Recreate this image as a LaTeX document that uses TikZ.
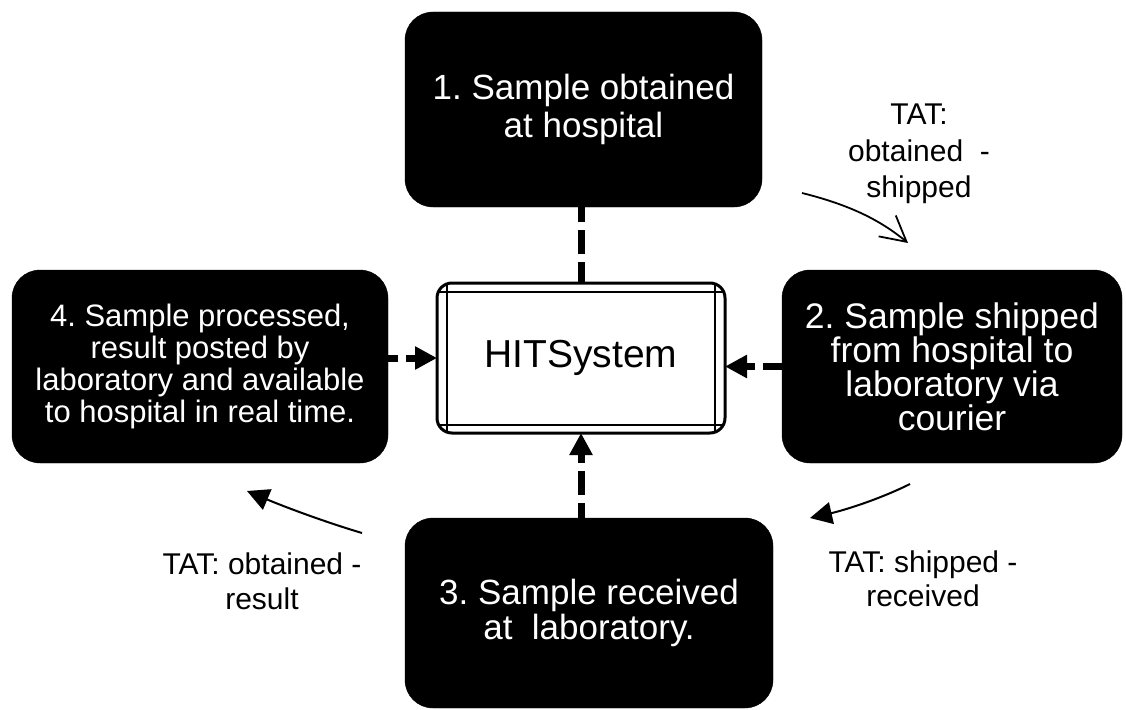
\documentclass[tikz,border=0pt]{standalone}
\usepackage{fontspec}
\setmainfont{Liberation Sans}
\usetikzlibrary{arrows.meta,calc}
\frenchspacing
\tikzset{
  stepbox/.style={fill=black, draw=black, rounded corners=28pt, text=white, align=center, inner sep=0pt, outer sep=0pt},
  hitbox/.style={draw=black, fill=white, line width=3pt, rounded corners=15pt, minimum width=288pt, minimum height=150pt, inner sep=0pt, outer sep=0pt, font=\fontsize{39}{44}\selectfont},
  link/.style={line width=7pt, dash pattern=on 24pt off 8pt},
  linkarrow/.style={link, -{Triangle[length=22pt,width=22pt]}},
  tat/.style={align=center, inner sep=0pt},
  tatarrow/.style={line width=2pt, -{Triangle[length=22pt,width=22pt]}},
  tatopen/.style={line width=1.8pt, -{Straight Barb[length=25pt,width=27pt]}},
}
\begin{document}
\begin{tikzpicture}[x=1pt,y=-1pt]
\useasboundingbox (0,0) rectangle (1126,709);
% step boxes
\node[stepbox, minimum width=357pt, minimum height=195pt, font=\fontsize{35}{37.5}\selectfont] (s1) at (583.5,109.5) {1. Sample obtained\\at hospital};
\node[stepbox, minimum width=340pt, minimum height=193pt, font=\fontsize{35.5}{34}\selectfont] (s2) at (952,366.5) {2. Sample shipped\\from hospital to\\laboratory via\\courier};
\node[stepbox, minimum width=368pt, minimum height=190pt, font=\fontsize{35}{35}\selectfont] (s3) at (589,613) {3. Sample received\\at\ \ laboratory.};
\node[stepbox, minimum width=376pt, minimum height=193pt, font=\fontsize{31}{32}\selectfont] (s4) at (200,366.5) {4. Sample processed,\\result posted by\\laboratory and available\\to hospital in real time.};
% central system box
\node[hitbox] (hit) at (581,358) {HITSystem};
\begin{scope}
  \clip[rounded corners=15pt] (hit.north west) rectangle (hit.south east);
  \draw[line width=2pt] ($(hit.north west)+(10,0)$) -- ($(hit.south west)+(10,0)$);
  \draw[line width=2pt] ($(hit.north east)+(-10,0)$) -- ($(hit.south east)+(-10,0)$);
  \draw[line width=2pt] ($(hit.north west)+(0,9)$) -- ($(hit.north east)+(0,9)$);
  \draw[line width=2pt] ($(hit.south west)+(0,-8)$) -- ($(hit.south east)+(0,-8)$);
\end{scope}
% dashed connectors
\draw[link, dash phase=9pt] (s1.south -| hit.north) -- (hit.north);
\draw[linkarrow, dash phase=14pt] (s4.east |- hit.west) -- (hit.west);
\draw[linkarrow, dash phase=5pt] (s2.west) -- (s2.west -| hit.east);
\draw[linkarrow, dash phase=9pt] (s3.north -| hit.south) -- (hit.south);
% TAT labels
\node[tat, font=\fontsize{30}{36.5}\selectfont] (t1) at (919,154) {TAT:\\obtained~~-\\shipped};
\node[tat, font=\fontsize{30}{34}\selectfont] (t2) at (923,579) {TAT: shipped -\\received};
\node[tat, font=\fontsize{30}{35}\selectfont] (t3) at (262,581.5) {TAT: obtained -\\result};
% TAT arrows
\coordinate (a1s) at (802,193);
\coordinate (a1e) at (908,243);
\coordinate (a2s) at (910,484);
\coordinate (a2e) at (810,518);
\coordinate (a3s) at (362,533);
\coordinate (a3e) at (247,491);
\draw[tatopen] (a1s) .. controls (850,205) and (880,220) .. (a1e);
\draw[tatarrow] (a2s) .. controls (880,499) and (845,510) .. (a2e);
\draw[tatarrow] (a3s) .. controls (325,522) and (285,507) .. (a3e);
\end{tikzpicture}
\end{document}
